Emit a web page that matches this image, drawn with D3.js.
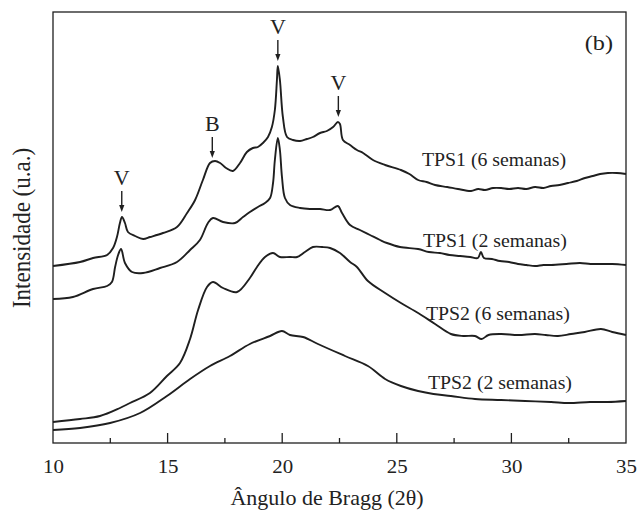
<!DOCTYPE html>
<html>
<head>
<meta charset="utf-8">
<script src="https://cdn.jsdelivr.net/npm/d3@7/dist/d3.min.js"></script>
<style>
  body { margin: 0; background: #fff; }
  text { font-family: "Liberation Serif", "Times New Roman", serif; fill: #222; }
</style>
</head>
<body>
<svg id="chart" width="638" height="516"></svg>
<script>
// Difratogramas de raios X (2θ, intensidade em u.a., curvas deslocadas verticalmente)
const tps1Week6 = [
  [10.00,177],[11.18,181],[11.75,185],[12.36,188],[12.62,195],[12.79,206],[12.92,220],[13.01,226],
  [13.14,220],[13.27,211],[13.58,207],[13.93,204],[14.24,206],[14.80,210],[15.41,216],[15.85,230],
  [16.20,243],[16.54,263],[16.85,280],[17.07,282],[17.29,280],[17.55,275],[17.85,272],[18.16,280],
  [18.46,291],[18.72,295],[18.94,296],[19.16,300],[19.38,306],[19.55,316],[19.68,333],[19.77,363],
  [19.81,377],[19.90,363],[20.03,326],[20.21,306],[20.47,303],[20.78,302],[21.08,304],[21.34,306],
  [21.65,310],[21.95,312],[22.22,316],[22.43,321],[22.52,319],[22.65,303],[22.96,298],[23.26,293],
  [23.53,290],[23.96,283],[24.49,278],[25.18,273],[25.55,269],[25.93,263],[26.30,261],[26.67,258],
  [27.20,256],[27.67,254],[28.24,252],[28.55,254],[28.85,253],[29.20,255],[29.55,255],[29.90,254],
  [30.29,255],[30.65,254],[31.03,256],[31.40,255],[31.73,257],[32.10,258],[32.47,260],[32.85,262],
  [33.21,265],[33.55,267],[33.87,269],[34.21,270],[34.60,270],[35.00,269]
];
const tps1Week2 = [
  [10.00,144],[10.87,146],[11.75,154],[12.36,157],[12.57,161],[12.71,176],[12.84,188],[12.97,194],
  [13.14,180],[13.45,171],[13.93,170],[14.67,175],[15.41,181],[15.98,193],[16.41,203],[16.76,220],
  [16.98,225],[17.42,221],[17.94,220],[18.29,226],[18.59,231],[18.94,236],[19.25,240],[19.47,245],
  [19.60,260],[19.68,283],[19.81,305],[19.90,293],[19.99,266],[20.12,245],[20.34,238],[20.78,235],
  [21.21,234],[21.65,234],[22.09,233],[22.43,237],[22.61,230],[22.96,218],[23.39,213],[23.83,208],
  [24.27,203],[24.57,200],[25.14,196],[25.93,194],[26.40,191],[26.88,190],[27.30,188],[27.76,187],
  [28.20,186],[28.54,185],[28.67,191],[28.80,185],[29.15,184],[29.50,182],[29.90,181],[30.29,179],
  [30.65,178],[31.03,177],[31.40,178],[31.73,178],[32.40,179],[32.99,180],[33.45,179],[33.87,179],
  [34.40,179],[35.00,178]
];
const tps2Week6 = [
  [10.00,21],[11.18,24],[12.05,27],[12.92,35],[13.36,40],[14.23,50],[14.97,67],[15.54,80],
  [15.98,104],[16.33,133],[16.72,156],[16.98,161],[17.42,155],[18.03,151],[18.59,165],[18.90,176],
  [19.25,186],[19.60,190],[19.90,186],[20.34,186],[20.65,186],[20.99,191],[21.34,196],[21.74,196],
  [22.09,195],[22.52,190],[22.96,181],[23.26,176],[23.74,162],[24.49,150],[25.18,140],[25.93,130],
  [26.67,119],[27.36,109],[27.90,107],[28.41,107],[28.70,104],[29.00,108],[29.55,109],[30.30,108],
  [31.03,109],[31.50,108],[32.03,107],[32.60,109],[33.20,111],[33.91,114],[34.40,111],[35.00,108]
];
const tps2Week2 = [
  [10.00,13],[11.18,15],[12.49,20],[13.80,30],[14.97,47],[15.98,64],[16.85,77],[17.72,87],
  [18.59,99],[19.47,107],[19.99,112],[20.34,108],[20.91,106],[21.56,99],[22.74,87],[23.74,77],
  [24.49,64],[25.18,57],[25.93,52],[26.60,49],[27.36,47],[28.41,44],[29.55,43],[30.60,42],
  [31.73,41],[32.50,40],[33.43,41],[34.20,41],[35.00,42]
];

const seriesData = [tps1Week6, tps1Week2, tps2Week6, tps2Week2];
const seriesNames = ["TPS1 (6 semanas)", "TPS1 (2 semanas)", "TPS2 (6 semanas)", "TPS2 (2 semanas)"];

const xTicks = [10, 15, 20, 25, 30, 35];
const xMinorTicks = [12.5, 17.5, 22.5, 27.5, 32.5];

// Picos identificados na curva TPS1 (6 semanas): V = amilose tipo V, B = tipo B
const peakLabels = ["V", "B", "V", "V"];
const peakAngles = [13.0, 16.95, 19.81, 22.45];

const panelTag = "(b)";
const xTitle = "Ângulo de Bragg (2θ)";
const yTitle = "Intensidade (u.a.)";

// ---- layout ----
const W = 638, H = 516;
const margin = { left: 53, right: 12, top: 12, bottom: 73 };
const svg = d3.select("#chart");

const x = d3.scaleLinear().domain([10, 35]).range([margin.left, W - margin.right]);
const y = d3.scaleLinear().domain([0, 431]).range([H - margin.bottom, margin.top]);

const stretch = 1.1;   // serif text is drawn slightly wide
const ink = "#1f1f1f";

// frame
svg.append("rect")
  .attr("x", x(10)).attr("y", y(431))
  .attr("width", x(35) - x(10)).attr("height", y(0) - y(431))
  .attr("fill", "none").attr("stroke", ink).attr("stroke-width", 1.3);

// bottom axis labels
const xAxis = d3.axisBottom(x).tickValues(xTicks).tickFormat(d3.format("d"))
  .tickSize(0).tickPadding(17);
const gx = svg.append("g").attr("transform", `translate(0,${y(0)})`).call(xAxis);
gx.select(".domain").remove();
gx.selectAll(".tick text")
  .attr("font-size", 19).attr("fill", ink)
  .attr("transform", `scale(${stretch},1)`);

// inward tick marks
const tickG = svg.append("g").attr("stroke", ink).attr("stroke-width", 1.3);
tickG.selectAll("line.major").data(xTicks.slice(1, -1)).join("line").attr("class", "major")
  .attr("x1", d => x(d)).attr("x2", d => x(d))
  .attr("y1", y(0)).attr("y2", y(0) - 10);
tickG.selectAll("line.minor").data(xMinorTicks).join("line").attr("class", "minor")
  .attr("x1", d => x(d)).attr("x2", d => x(d))
  .attr("y1", y(0)).attr("y2", y(0) - 5);

// curves
const line = d3.line().x(d => x(d[0])).y(d => y(d[1])).curve(d3.curveCatmullRom.alpha(0.5));
svg.append("g").selectAll("path").data(seriesData).join("path")
  .attr("d", line)
  .attr("fill", "none").attr("stroke", ink)
  .attr("stroke-width", 1.9).attr("stroke-linejoin", "round");

// series labels
const labelAnchors = [[26.10, 277], [26.14, 196], [26.27, 123], [26.36, 54]];
svg.append("g").selectAll("text").data(seriesNames).join("text")
  .attr("transform", (d, i) => `translate(${x(labelAnchors[i][0])},${y(labelAnchors[i][1])}) scale(${stretch},1)`)
  .attr("font-size", 18)
  .text(d => d);

// peak arrows
function valueAt(series, angle) {
  let best = series[0];
  for (const p of series) if (Math.abs(p[0] - angle) < Math.abs(best[0] - angle)) best = p;
  return best[1];
}
const marks = svg.append("g");
peakAngles.forEach((a, i) => {
  const px = x(a);
  const tip = y(valueAt(tps1Week6, a)) - 5;
  const top = tip - 21;
  marks.append("line").attr("x1", px).attr("x2", px).attr("y1", top).attr("y2", tip - 5)
    .attr("stroke", ink).attr("stroke-width", 1.4);
  marks.append("path")
    .attr("d", `M${px - 2.6},${tip - 7} L${px + 2.6},${tip - 7} L${px},${tip} Z`)
    .attr("fill", ink);
  marks.append("text")
    .attr("transform", `translate(${px},${top - 6}) scale(${stretch},1)`)
    .attr("text-anchor", "middle").attr("font-size", 20)
    .text(peakLabels[i]);
});

// panel tag
svg.append("text")
  .attr("transform", `translate(${x(35) - 13},${y(431) + 38}) scale(${stretch},1)`)
  .attr("text-anchor", "end").attr("font-size", 22)
  .text(panelTag);

// axis titles
svg.append("text")
  .attr("transform", `translate(327,505) scale(${stretch},1)`)
  .attr("text-anchor", "middle").attr("font-size", 20)
  .text(xTitle);

svg.append("text")
  .attr("transform", `translate(30,228) rotate(-90) scale(1,${stretch})`)
  .attr("text-anchor", "middle").attr("font-size", 23)
  .text(yTitle);
</script>
</body>
</html>
